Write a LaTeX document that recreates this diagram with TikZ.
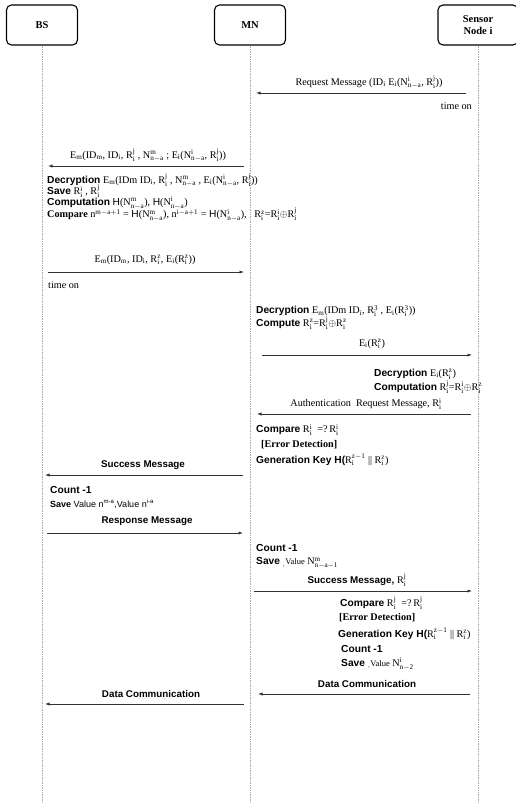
\documentclass[tikz,border=0pt]{standalone}
\usepackage{fontspec}
\setmainfont{Liberation Serif}
\newfontfamily\gothic{Liberation Sans}
\usetikzlibrary{arrows.meta}
\newcommand{\lo}[1]{$_{\mathrm{#1}}$}
\newcommand{\hi}[1]{$^{\mathrm{#1}}$}
\newcommand{\hilo}[2]{$^{\mathrm{#1}}_{\mathrm{#2}}$}
\newcommand{\gb}[1]{{\gothic\bfseries #1}}
\tikzset{
  lane/.style={draw=gray!65, line width=0.8pt, dash pattern=on 0.8pt off 0.9pt},
  head/.style={draw, line width=1.1pt, rounded corners=5pt, minimum width=71pt, minimum height=40pt,
    align=center, font=\bfseries\fontsize{10.5}{12}\selectfont},
  msg/.style={draw=black!80, line width=0.7pt, -{Latex[length=4.5pt,width=3.2pt]}},
  lbl/.style={inner sep=0pt, font=\fontsize{10.2}{11}\selectfont},
  txt/.style={inner sep=0pt, anchor=west, font=\fontsize{10.2}{11}\selectfont},
  glbl/.style={inner sep=0pt, font=\gothic\bfseries\fontsize{9.8}{11}\selectfont}
}
\begin{document}
\begin{tikzpicture}[x=1pt,y=-1pt]
\useasboundingbox (0,0) rectangle (515,804);
% actors
\node[head] (bs) at (42,25) {BS};
\node[head] (mn) at (250,25) {MN};
\node[head, minimum width=80pt] (sn) at (478,25) {Sensor\\Node i};
\coordinate (bsend) at (42,804);
\coordinate (mnend) at (250,804);
\coordinate (snend) at (478,804);
\draw[lane] (bs.south) -- (bsend);
\draw[lane] (mn.south) -- (mnend);
\draw[lane] (sn.south) -- (snend);

% request
\coordinate (r1a) at (466,93); \coordinate (r1b) at (256,93);
\draw[msg] (r1a) -- (r1b);
\node[lbl] (req) at (369,82) {Request Message (ID\lo{i} E\lo{i}(N\hilo{i}{n-a}, R\hilo{j}{i}))};
\node[lbl, anchor=east] (ton1) at (472,106) {time on};

% MN -> BS
\coordinate (r2a) at (244,166); \coordinate (r2b) at (48,166);
\draw[msg] (r2a) -- (r2b);
\node[lbl] (em1) at (148,155) {E\lo{m}(ID\lo{m}, ID\lo{i}, R\hilo{j}{i} , N\hilo{m}{n-a} ; E\lo{i}(N\hilo{i}{n-a}, R\hilo{j}{i}))};
\node[txt] (bs1) at (47,180) {\gb{Decryption} E\lo{m}(IDm ID\lo{i}, R\hilo{j}{i} , N\hilo{m}{n-a} , E\lo{i}(N\hilo{i}{n-a}, R\hilo{j}{i}))};
\node[txt] (bs2) at (47,191.5) {\gb{Save} R\hilo{i}{i} , R\hilo{j}{i}};
\node[txt] (bs3) at (47,203) {\gb{Computation} {\gothic H}(N\hilo{m}{n-a}), {\gothic H}(N\hilo{i}{n-a})};
\node[txt] (bs4) at (47,214.5) {\textbf{Compare} n\hi{m-a+1} = {\gothic H}(N\hilo{m}{n-a}), n\hi{i-a+1} = {\gothic H}(N\hilo{i}{n-a}),~~ R\hilo{z}{i}=R\hilo{i}{i}$\oplus$R\hilo{j}{i}};

% BS -> MN
\coordinate (r3a) at (48,272); \coordinate (r3b) at (244,272);
\draw[msg] (r3a) -- (r3b);
\node[lbl] (em2) at (145,260) {E\lo{m}(ID\lo{m}, ID\lo{i}, R\hilo{z}{i}, E\lo{i}(R\hilo{z}{i}))};
\node[txt] (ton2) at (48,285) {time on};

% MN work
\node[txt] (mn1) at (256,311) {\gb{Decryption} E\lo{m}(IDm ID\lo{i}, R\hilo{3}{i} , E\lo{i}(R\hilo{3}{i}))};
\node[txt] (mn2) at (256,323) {\gb{Compute} R\hilo{z}{i}=R\hilo{j}{i}$\oplus$R\hilo{z}{i}};

% MN -> sensor
\coordinate (r4a) at (262,355); \coordinate (r4b) at (472,355);
\draw[msg] (r4a) -- (r4b);
\node[lbl] (ei1) at (372,344) {E\lo{i}(R\hilo{z}{i})};
\node[txt] (sn1) at (374,374) {\gb{Decryption} E\lo{i}(R\hilo{z}{i})};
\node[txt] (sn2) at (374,387) {\gb{Computation} R\hilo{j}{i}=R\hilo{i}{i}$\oplus$R\hilo{z}{i}};

% sensor -> MN
\coordinate (r5a) at (471,414); \coordinate (r5b) at (257,414);
\draw[msg] (r5a) -- (r5b);
\node[lbl] (auth) at (366,404) {Authentication~ Request Message, R\hilo{i}{i}};
\node[txt] (mn3) at (256,430) {\gb{Compare} R\hilo{i}{i} ~=?\,R\hilo{i}{i}};
\node[txt] (mn4) at (261,445) {\textbf{[Error Detection]}};
\node[txt] (mn5) at (256,460) {\gb{Generation Key H(}R\hilo{z-1}{i} || R\hilo{z}{i})};

% MN -> BS success
\coordinate (r6a) at (243,475); \coordinate (r6b) at (45,475);
\draw[msg] (r6a) -- (r6b);
\node[glbl] (succ1) at (143,465) {Success Message};
\node[txt] (bs5) at (50,490) {\gb{Count -1}};
\node[txt] (bs6) at (50,504) {{\gothic\fontsize{9}{10}\selectfont\textbf{Save} Value n\textsuperscript{m-a},Value n\textsuperscript{i-a}}};

% BS -> MN response
\coordinate (r7a) at (47,533); \coordinate (r7b) at (243,533);
\draw[msg] (r7a) -- (r7b);
\node[glbl] (resp) at (147,521) {Response Message};
\node[txt] (mn6) at (256,548) {\gb{Count -1}};
\node[txt] (mn7) at (256,563) {\gb{Save} \lo{,}{\fontsize{8.5}{9}\selectfont Value} N\hilo{m}{n-a-1}};

% MN -> sensor success
\coordinate (r8a) at (254,591); \coordinate (r8b) at (472,591);
\draw[msg] (r8a) -- (r8b);
\node[glbl] (succ2) at (357,580) {Success Message, {\fontfamily{\rmdefault}\mdseries\fontsize{10.2}{11}\selectfont R\hilo{j}{i}}};
\node[txt] (sn3) at (340,603) {\gb{Compare} R\hilo{j}{i} ~=?\,R\hilo{j}{i}};
\node[txt] (sn4) at (339,618) {\textbf{[Error Detection]}};
\node[txt] (sn5) at (338,634) {\gb{Generation Key H(}R\hilo{z-1}{i} || R\hilo{z}{i})};
\node[txt] (sn6) at (341,649) {\gb{Count -1}};
\node[txt] (sn7) at (341,664) {\gb{Save} \lo{,}{\fontsize{8.5}{9}\selectfont Value} N\hilo{i}{n-2}};

% data communication
\coordinate (r9a) at (470,694); \coordinate (r9b) at (258,694);
\draw[msg] (r9a) -- (r9b);
\node[glbl] (dc1) at (367,684) {Data Communication};
\coordinate (r10a) at (244,704); \coordinate (r10b) at (45,704);
\draw[msg] (r10a) -- (r10b);
\node[glbl] (dc2) at (151,694) {Data Communication};
\end{tikzpicture}
\end{document}
